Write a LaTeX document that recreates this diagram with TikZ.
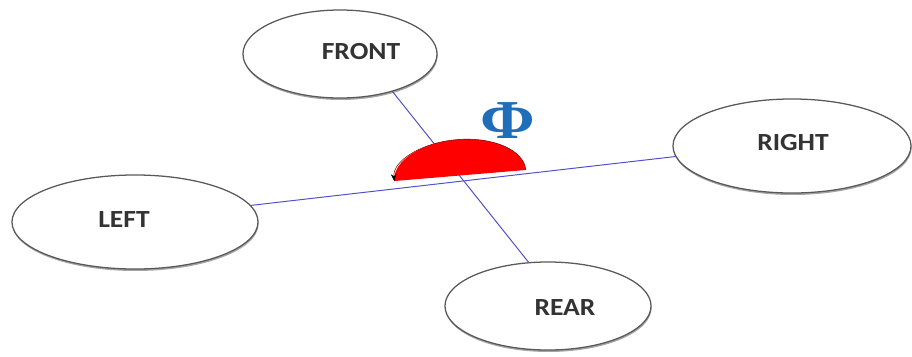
\documentclass[tikz,border=0pt]{standalone}
\usepackage{fontspec}
\usepackage{amsmath}
\usepackage{xcolor}
\usepackage{tikz}
\usetikzlibrary{shapes.geometric, arrows.meta, shadows, backgrounds}
\newfontfamily\labelfont{Carlito}
\newfontfamily\phifont{Liberation Serif}
\newcommand{\wlabel}[1]{\scalebox{1.12}[1]{#1}}
\definecolor{axisblue}{RGB}{80,80,205}
\definecolor{phiblue}{RGB}{30,110,185}

\begin{document}
\begin{tikzpicture}[x=0.025cm, y=-0.025cm,
  wheel/.style={ellipse, draw=black!65, line width=0.9pt, fill=white, inner sep=0pt,
    drop shadow={shadow xshift=0.4pt, shadow yshift=-1.4pt, fill=black!70}},
  tag/.style={font=\labelfont\bfseries\fontsize{17.5}{20}\selectfont, text=black!80, inner sep=0pt},
  axisline/.style={draw=axisblue, line width=0.7pt}]
\useasboundingbox (0,0) rectangle (912,356);
% ellipses
\node[wheel, minimum width=4.85cm, minimum height=2.2cm] (front) at (340,54) {};
\node[wheel, minimum width=6.15cm, minimum height=2.35cm] (left) at (135,222) {};
\node[wheel, minimum width=5.95cm, minimum height=2.35cm] (right) at (792,146) {};
\node[wheel, minimum width=5.15cm, minimum height=2.2cm] (rear) at (548,306) {};
% labels
\node[tag] (frontlbl) at (361,52) {\wlabel{FRONT}};
\node[tag] (leftlbl) at (124,220) {\wlabel{LEFT}};
\node[tag] (rightlbl) at (793,143) {\wlabel{RIGHT}};
\node[tag] (rearlbl) at (565,308) {\wlabel{REAR}};
% axes
\begin{scope}[on background layer]
\draw[axisline] (frontlbl.center) -- (rearlbl.center);
\draw[axisline] (leftlbl.center) -- (rightlbl.center);
\end{scope}
% angle
\begin{scope}[shift={(460,175.5)}, rotate=4.8]
\fill[red] (66,0) arc[start angle=0, end angle=-180, x radius=66, y radius=36] -- cycle;
\draw[red!55!black, line width=0.4pt, -{Stealth[length=5pt, width=4pt, black]}]
  (66,0) arc[start angle=0, end angle=-180, x radius=66, y radius=36];
\end{scope}
\node[text=phiblue, font=\phifont\bfseries\fontsize{39}{42}\selectfont, inner sep=0pt] (phi) at (508,121)
  {\scalebox{1.2}[1]{Φ}};
\end{tikzpicture}
\end{document}
